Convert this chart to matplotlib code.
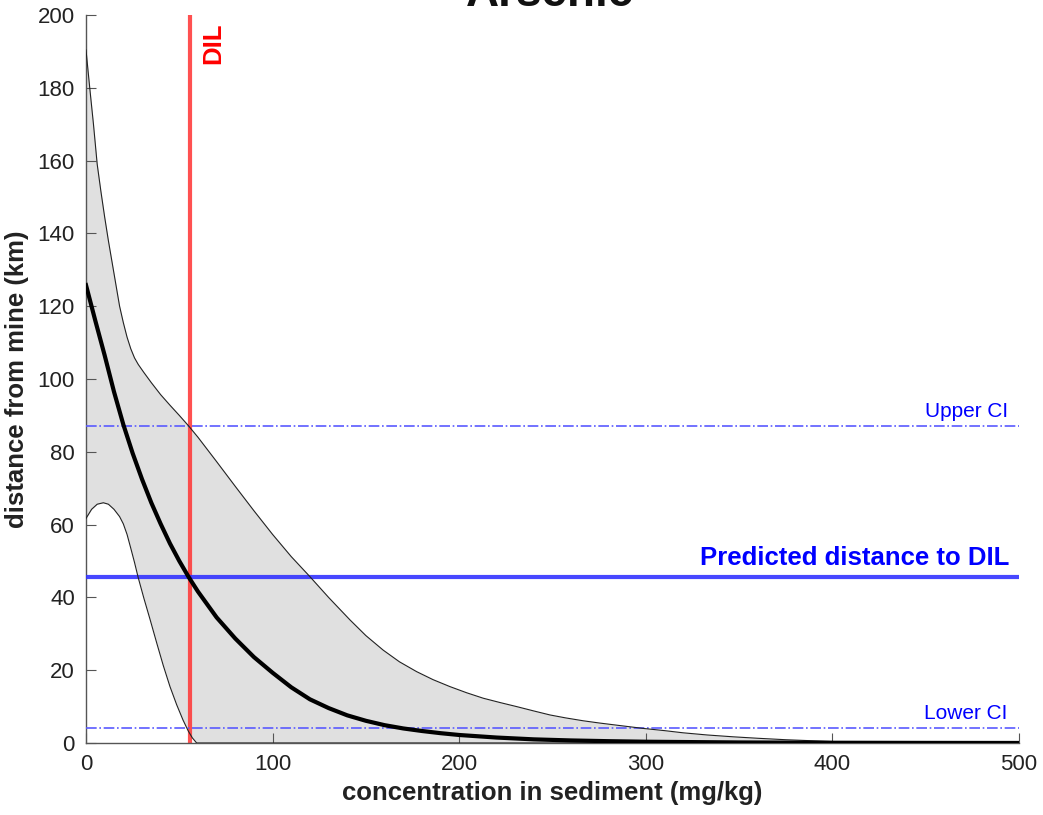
import matplotlib
matplotlib.use("Agg")
import matplotlib.pyplot as plt

plt.rcParams['font.family'] = ['Liberation Sans', 'DejaVu Sans']

# concentration (mg/kg) vs distance from mine (km)
x_mean = [0, 5, 10, 15, 20, 25, 30, 35, 40, 45, 50, 55, 60, 70, 80, 90, 100,
          110, 120, 130, 140, 150, 160, 170, 180, 190, 200, 220, 240, 260,
          280, 300, 350, 400, 450, 500]
y_mean = [125.8, 116, 106.5, 96.5, 87.5, 79.6, 72.5, 66, 60.2, 54.8, 50,
          45.6, 41.6, 34.5, 28.7, 23.6, 19.3, 15.3, 12, 9.6, 7.6, 6.1, 4.9,
          4.0, 3.3, 2.7, 2.2, 1.5, 1.0, 0.7, 0.5, 0.35, 0.15, 0.07, 0.03, 0.01]

x_upper = [0, 2, 4, 6, 8, 10, 12, 14, 16, 18, 20, 22, 24, 26, 28, 31, 35,
           40, 45, 50, 55, 60, 70, 80, 90, 100, 110, 120, 130, 141.5, 150,
           159.3, 168, 177.2, 186, 195, 204, 212.9, 222, 230.8, 240, 248.7,
           257, 266.5, 275, 284.4, 298.7, 310, 320, 333, 346.8, 360, 375,
           390, 400, 425, 450, 475, 500]
y_upper = [190.4, 180, 170, 159, 151.5, 144.5, 138, 132, 126, 120, 115.5,
           111.5, 108.3, 105.8, 104, 101.8, 99, 95.7, 92.8, 90, 87.1, 84,
           77.3, 70.5, 63.8, 57.3, 51.2, 45.7, 40, 33.8, 29.5, 25.5, 22.3,
           19.6, 17.4, 15.5, 13.8, 12.3, 11.1, 10, 8.8, 7.7, 6.9, 6.1, 5.5,
           4.9, 4.0, 3.4, 2.8, 2.2, 1.7, 1.3, 0.9, 0.6, 0.4, 0.2, 0.1, 0.05, 0]

x_lower = [0, 3, 6, 9.3, 12, 15, 18, 20, 22, 24, 26, 28, 31, 34.3, 38, 41.4,
           45, 48.6, 52, 54.8, 57, 59.3, 70, 100, 200, 300, 400, 500]
y_lower = [61.7, 64.2, 65.6, 66, 65.6, 64.2, 62.2, 60.2, 57.3, 53.5, 49.6,
           45.4, 39.8, 34, 27.3, 21.3, 15.5, 10.5, 6.3, 3.3, 1.4, 0, 0, 0,
           0, 0, 0, 0]

dil = 55.7
pred_dist = 45.6
upper_ci = 87.1
lower_ci = 4.1

fig = plt.figure(figsize=(10.43, 8.15), dpi=100)
ax = fig.add_axes([86 / 1043, 72 / 815, 933 / 1043, 728 / 815])

ax.fill_between(x_upper, y_upper, 0, color='#e0e0e0', lw=0, zorder=1)
ax.fill_between(x_lower, y_lower, 0, color='white', lw=0, zorder=1.1)

ax.axvline(dil, color='#ff3333', alpha=0.85, lw=3, zorder=2)
ax.axhline(upper_ci, color='#5a5aff', lw=1.2, ls='-.', zorder=3)
ax.axhline(lower_ci, color='#5a5aff', lw=1.2, ls='-.', zorder=3)
ax.axhline(pred_dist, color='#3333ff', alpha=0.9, lw=3, zorder=4)

ax.plot(x_upper, y_upper, color='#222222', lw=0.8, zorder=5)
ax.plot(x_lower, y_lower, color='#222222', lw=0.8, zorder=5)
ax.plot(x_mean, y_mean, color='black', lw=3, zorder=6)

ax.text(dil + 6, 198, 'DIL', color='red', fontsize=18.5, fontweight='bold',
        rotation=90, ha='left', va='top', zorder=7)
ax.text(494, upper_ci + 2.5, 'Upper CI', color='blue', fontsize=15,
        ha='right', va='baseline', zorder=7)
ax.text(494, lower_ci + 2.5, 'Lower CI', color='blue', fontsize=15,
        ha='right', va='baseline', zorder=7)
ax.text(495, pred_dist + 3.3, 'Predicted distance to DIL', color='blue',
        fontsize=18.5, fontweight='bold', ha='right', va='baseline', zorder=7)

ax.set_xlim(0, 500)
ax.set_ylim(0, 200)
ax.set_xticks(range(0, 501, 100))
ax.set_yticks(range(0, 201, 20))
ax.tick_params(direction='in', length=7, labelsize=16, color='#555555',
               labelcolor='#222222', pad=8)
for s in ['top', 'right']:
    ax.spines[s].set_visible(False)
for s in ['left', 'bottom']:
    ax.spines[s].set_color('#555555')
    ax.spines[s].set_linewidth(1)

ax.set_xlabel('concentration in sediment (mg/kg)', fontsize=18.5,
              fontweight='bold', color='#222222', labelpad=4)
ax.set_ylabel('distance from mine (km)', fontsize=18.5, fontweight='bold',
              color='#222222', labelpad=6)

# title sits mostly above the canvas, as in the reference
fig.text(0.527, 1 - 6 / 815, 'Arsenic', fontsize=33, fontweight='bold',
         ha='center', va='baseline', color='#111111')

fig.savefig('out.png', dpi=100)
